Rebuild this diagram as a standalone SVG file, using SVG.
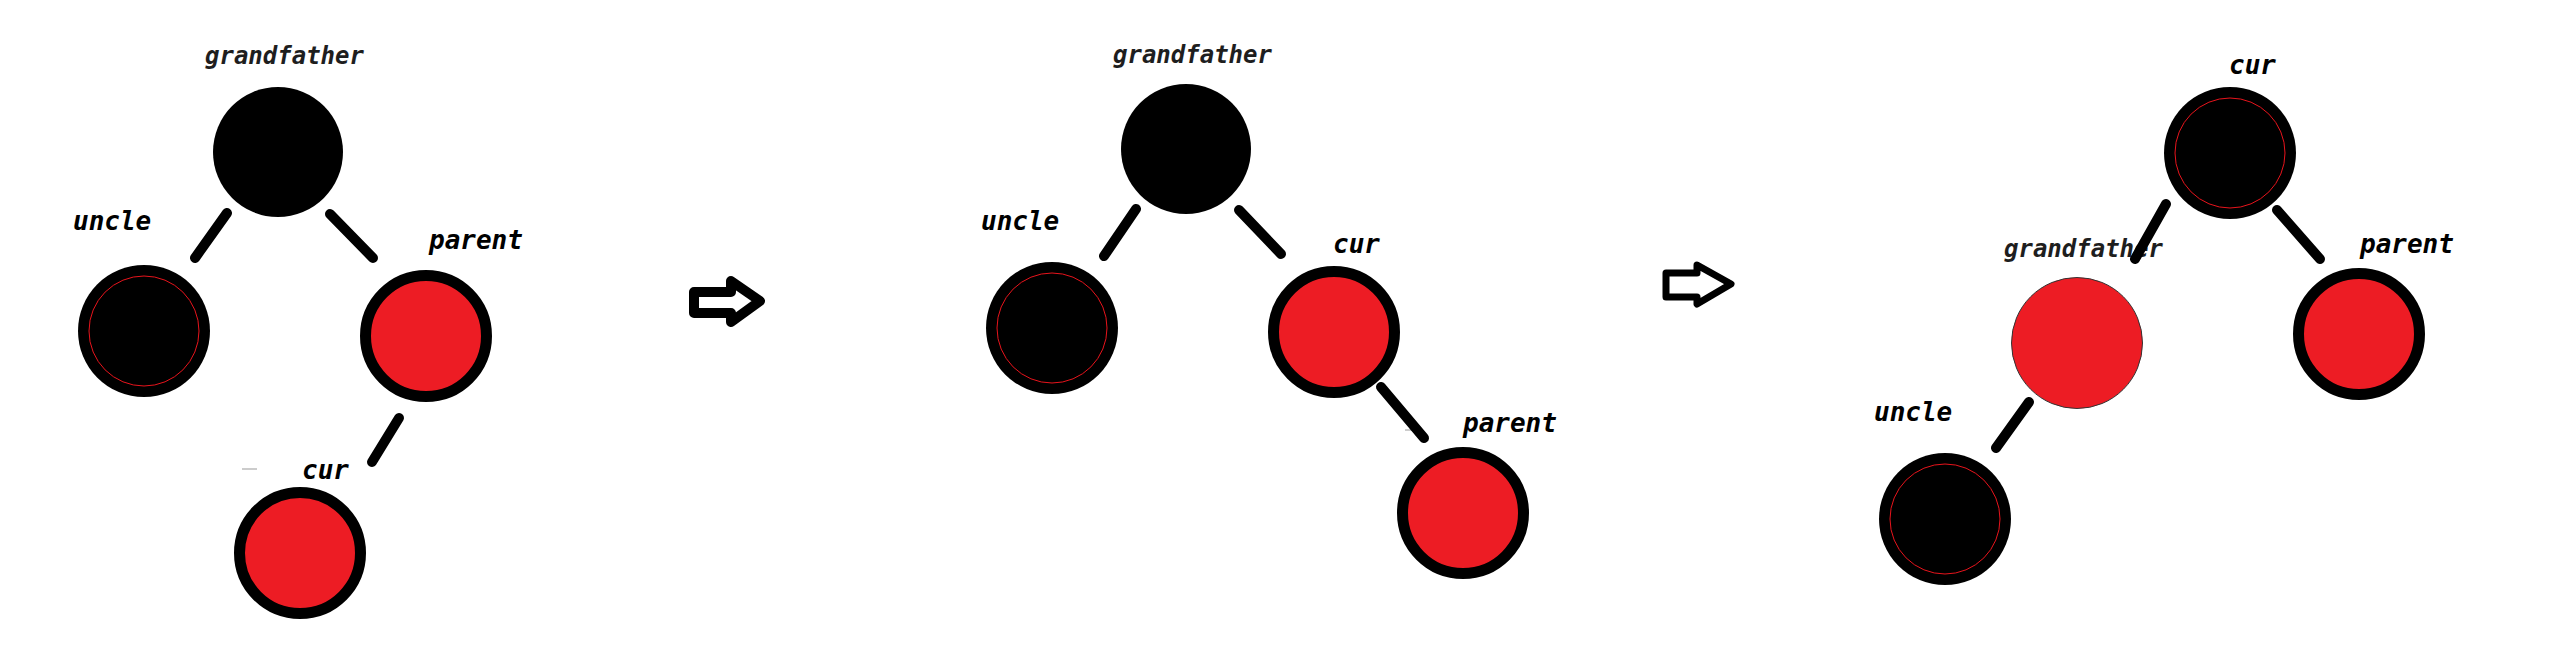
<svg xmlns="http://www.w3.org/2000/svg" width="2561" height="667" viewBox="0 0 2561 667">
<style>
.lbl{font-family:"DejaVu Sans Mono","Liberation Mono",monospace;font-weight:bold;font-style:italic;font-size:26px;fill:#000}
.gf{font-size:24px;fill:#1e1e1e}
.blk{fill:#000}
.inner{fill:none;stroke:#e8141c;stroke-width:1}
.red{fill:#ED1C24;stroke:#000;stroke-width:11}
.redplain{fill:#ED1C24;stroke:#333;stroke-width:1}
.edge{stroke:#000;stroke-width:10;stroke-linecap:round;fill:none}
.arrow{fill:#fff;stroke:#000;stroke-linejoin:round}
.dash{stroke:#bbb;stroke-width:1.5}
</style>
<rect width="2561" height="667" fill="#fff"/>

<!-- Panel 1 -->
<g id="p1-grandfather"><circle class="blk" cx="278" cy="152" r="65"/><text class="lbl gf" x="205" y="64">grandfather</text></g>
<g id="p1-uncle"><circle class="blk" cx="144" cy="331" r="66"/><circle class="inner" cx="144" cy="331" r="55"/><text class="lbl" x="73" y="230">uncle</text></g>
<g id="p1-parent"><circle class="red" cx="426" cy="336" r="60.5"/><text class="lbl" x="429" y="249">parent</text></g>
<g id="p1-cur"><circle class="red" cx="300" cy="553" r="60.5"/><text class="lbl" x="302" y="479">cur</text><line class="dash" x1="242" y1="469" x2="257" y2="469"/></g>

<!-- Panel 2 -->
<g id="p2-grandfather"><circle class="blk" cx="1186" cy="149" r="65"/><text class="lbl gf" x="1113" y="63">grandfather</text></g>
<g id="p2-uncle"><circle class="blk" cx="1052" cy="328" r="66"/><circle class="inner" cx="1052" cy="328" r="55"/><text class="lbl" x="981" y="230">uncle</text></g>
<g id="p2-cur"><circle class="red" cx="1334" cy="332" r="60.5"/><text class="lbl" x="1333" y="253">cur</text></g>
<g id="p2-parent"><circle class="red" cx="1463" cy="513" r="60.5"/><text class="lbl" x="1463" y="432">parent</text><line class="dash" x1="1405" y1="430" x2="1413" y2="430"/></g>

<!-- Panel 3 -->
<g id="p3-cur"><circle class="blk" cx="2230" cy="153" r="66"/><circle class="inner" cx="2230" cy="153" r="55"/><text class="lbl" x="2229" y="74">cur</text></g>
<g id="p3-grandfather"><circle class="redplain" cx="2077" cy="343" r="65.5"/><text class="lbl gf" x="2004" y="257">grandfather</text></g>
<g id="p3-parent"><circle class="red" cx="2359" cy="334" r="60.5"/><text class="lbl" x="2360" y="253">parent</text></g>
<g id="p3-uncle"><circle class="blk" cx="1945" cy="519" r="66"/><circle class="inner" cx="1945" cy="519" r="55"/><text class="lbl" x="1874" y="421">uncle</text></g>

<!-- Connectors -->
<g id="connectors">
<line class="edge" x1="227" y1="213" x2="195" y2="258"/>
<line class="edge" x1="330" y1="214" x2="373" y2="258"/>
<line class="edge" x1="399" y1="418" x2="372" y2="462"/>
<line class="edge" x1="1136" y1="209" x2="1104" y2="256"/>
<line class="edge" x1="1239" y1="210" x2="1281" y2="254"/>
<line class="edge" x1="1381" y1="387" x2="1424" y2="438"/>
<line class="edge" x1="2166" y1="204" x2="2135" y2="259"/>
<line class="edge" x1="2277" y1="210" x2="2320" y2="259"/>
<line class="edge" x1="2029" y1="402" x2="1996" y2="448"/>
</g>

<!-- Transition arrows -->
<g id="arrow1"><path class="arrow" stroke-width="10" d="M694,292 L731,292 L731,281 L760,301 L731,322 L731,313 L694,313 Z"/></g>
<g id="arrow2"><path class="arrow" stroke-width="7" d="M1666,273 L1697,273 L1697,265 L1731,284 L1697,304 L1697,297 L1666,297 Z"/></g>
</svg>
